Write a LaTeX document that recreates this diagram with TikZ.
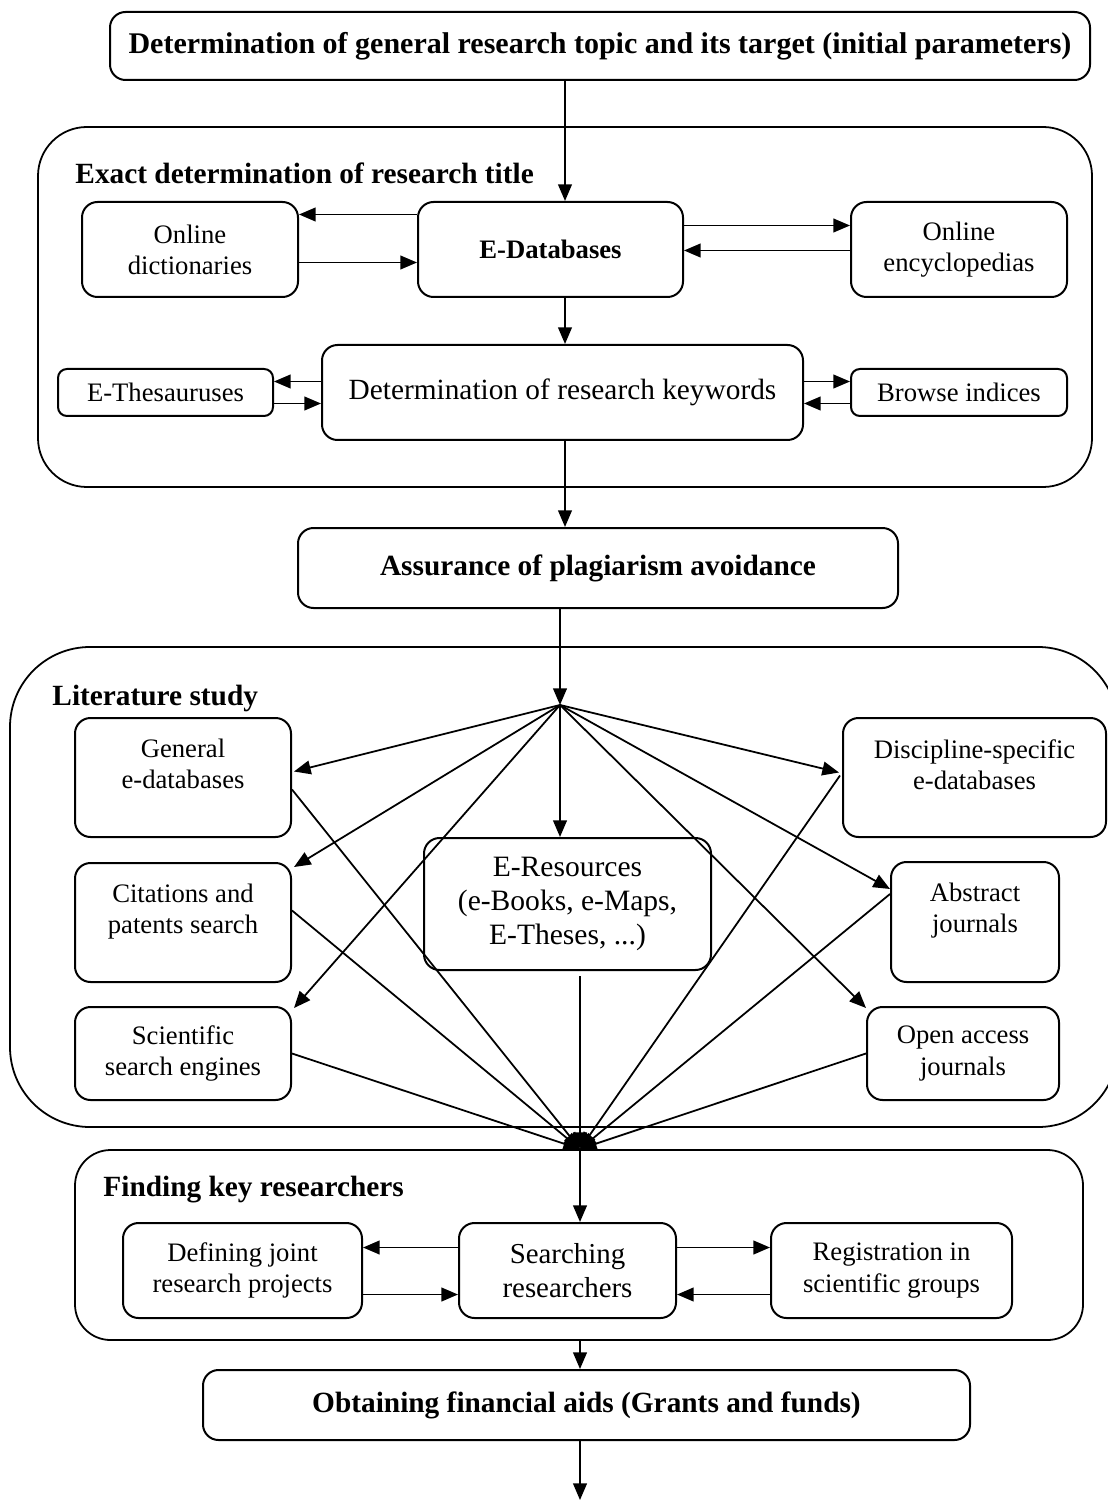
\documentclass[tikz,border=0pt]{standalone}
\usepackage{fontspec}
\setmainfont{Liberation Serif}
\usetikzlibrary{arrows.meta,positioning,calc}
\newcommand\pu{0.45pt}
\tikzset{
  sz/.style 2 args={minimum width=#1*\pu, minimum height=#2*\pu},
  blk/.style={draw, line width=0.9pt, rounded corners=7pt, align=center,
    inner sep=1pt, font=\fontsize{12}{14}\selectfont},
  bld/.style={font=\fontsize{13.2}{15}\selectfont\bfseries},
  lift/.style={text depth=#1},
  grp/.style={draw, line width=0.8pt, inner sep=0pt},
  arr/.style={-{Triangle[length=7.5pt,width=6.2pt]}, line width=0.8pt},
  ttl/.style={anchor=west, inner sep=0pt, font=\fontsize{13.2}{15}\selectfont\bfseries},
}
\begin{document}
\begin{tikzpicture}[x=\pu, y=-\pu]
  \useasboundingbox (0,0) rectangle (1108,1506);

  %% group frames
  \node[grp, rounded corners=22pt, sz={1054}{360}] (titlegrp) at (565,307) {};
  \node[grp, rounded corners=36pt, sz={1108}{480}] (litgrp) at (564,887) {};
  \node[grp, rounded corners=16pt, sz={1008}{190}] (findgrp) at (579,1245) {};

  \node[ttl] (t1) at (75,173) {Exact determination of research title};
  \node[ttl] (t2) at (52,698) {Literature study};
  \node[ttl] (t3) at (103,1190) {Finding key researchers};

  %% spine coordinates
  \coordinate (spA) at (565,0);
  \coordinate (hub) at (560,705);
  \coordinate (sink) at (580,1149);
  \coordinate (fin) at (580,1500);

  %% top part
  \node[blk, sz={980}{68}, font=\fontsize{13.5}{15}\selectfont\bfseries] (top) at (600,46)
    {Determination of general research topic and its target (initial parameters)};
  \node[blk, sz={216}{95}] (odict) at (190,249.5) {Online\\dictionaries};
  \node[blk, sz={265}{95}, font=\fontsize{12}{14}\selectfont\bfseries] (edb) at (550.5,249.5) {E-Databases};
  \node[blk, sz={216}{95}] (oenc) at (959,249.5) {Online\\encyclopedias};
  \node[blk, sz={481}{95}, font=\fontsize{13.2}{15}\selectfont] (kw) at (562.5,392.5)
    {Determination of research keywords};
  \node[blk, sz={215}{47}, rounded corners=4pt] (thes) at (165.5,392.5) {E-Thesauruses};
  \node[blk, sz={216}{47}, rounded corners=4pt] (brow) at (959,392.5) {Browse indices};
  \node[blk, bld, sz={600}{80}] (plag) at (598,568) {Assurance of plagiarism avoidance};

  %% literature study
  \node[blk, sz={216}{119}, lift=12pt] (gen) at (183,777.5) {General\\e-databases};
  \node[blk, sz={216}{119}, lift=12pt] (cit) at (183,922.5) {Citations and\\patents search};
  \node[blk, sz={216}{93}] (sci) at (183,1053.5) {Scientific\\search engines};
  \node[blk, sz={287}{132}, font=\fontsize{13.3}{15.3}\selectfont] (eres) at (567.5,904)
    {E-Resources\\(e-Books, e-Maps,\\E-Theses, ...)};
  \node[blk, sz={263}{119}, lift=12pt] (disc) at (974.5,777.5) {Discipline-specific\\e-databases};
  \node[blk, sz={168}{120}, lift=13pt] (abs) at (975,922) {Abstract\\journals};
  \node[blk, sz={192}{93}] (open) at (963,1053.5) {Open access\\journals};

  %% finding key researchers
  \node[blk, sz={239}{95}] (def) at (242.5,1270.5) {Defining joint\\research projects};
  \node[blk, sz={217}{95}, font=\fontsize{13}{15.5}\selectfont] (srch) at (567.5,1270.5) {Searching\\researchers};
  \node[blk, sz={241}{95}] (reg) at (891.5,1270.5) {Registration in\\scientific groups};
  \node[blk, bld, sz={767}{70}] (fund) at (586.5,1405) {Obtaining financial aids (Grants and funds)};

  %% connectors, title part
  \draw[arr] (top.south -| spA) -- (edb.north -| spA);
  \draw[arr] ($(edb.west)+(0,-35)$) -- ($(odict.east)+(0,-35)$);
  \draw[arr] ($(odict.east)+(0,13)$) -- ($(edb.west)+(0,13)$);
  \draw[arr] ($(edb.east)+(0,-24)$) -- ($(oenc.west)+(0,-24)$);
  \draw[arr] ($(oenc.west)+(0,1)$) -- ($(edb.east)+(0,1)$);
  \draw[arr] (edb.south -| spA) -- (kw.north -| spA);
  \draw[arr] ($(kw.west)+(0,-11)$) -- ($(thes.east)+(0,-11)$);
  \draw[arr] ($(thes.east)+(0,11)$) -- ($(kw.west)+(0,11)$);
  \draw[arr] ($(kw.east)+(0,-11)$) -- ($(brow.west)+(0,-11)$);
  \draw[arr] ($(brow.west)+(0,11)$) -- ($(kw.east)+(0,11)$);
  \draw[arr] (kw.south -| spA) -- (plag.north -| spA);

  %% connectors, literature part
  \draw[arr] (plag.south -| hub) -- (hub);
  \draw[arr] (hub) -- ($(gen.east)+(2,-6)$);
  \draw[arr] (hub) -- ($(cit.north east)+(2,5)$);
  \draw[arr] (hub) -- ($(sci.north east)+(2,2)$);
  \draw[arr] (hub) -- (eres.north -| hub);
  \draw[arr] (hub) -- ($(disc.west)+(-3,-5)$);
  \draw[arr] (hub) -- ($(abs.west)+(0,-33)$);
  \draw[arr] (hub) -- ($(open.north west)+(0,2)$);

  \draw[arr] ($(gen.east)+(0,12)$) -- (sink);
  \draw[arr] ($(cit.east)+(0,-12)$) -- (sink);
  \draw[arr] (sci.east) -- (sink);
  \draw[arr] ($(eres.south -| sink)+(0,5)$) -- (sink);
  \draw[arr] ($(disc.west)+(-2,-2)$) -- (sink);
  \draw[arr] ($(abs.west)+(0,-28)$) -- (sink);
  \draw[arr] (open.west) -- (sink);

  %% connectors, researchers part
  \draw[arr] (sink) -- (srch.north -| sink);
  \draw[arr] ($(srch.west)+(0,-23)$) -- ($(def.east)+(0,-23)$);
  \draw[arr] ($(def.east)+(0,24)$) -- ($(srch.west)+(0,24)$);
  \draw[arr] ($(srch.east)+(0,-23)$) -- ($(reg.west)+(0,-23)$);
  \draw[arr] ($(reg.west)+(0,24)$) -- ($(srch.east)+(0,24)$);
  \draw[arr] (findgrp.south -| sink) -- (fund.north -| sink);
  \draw[arr] (fund.south -| sink) -- (fin);
\end{tikzpicture}
\end{document}
